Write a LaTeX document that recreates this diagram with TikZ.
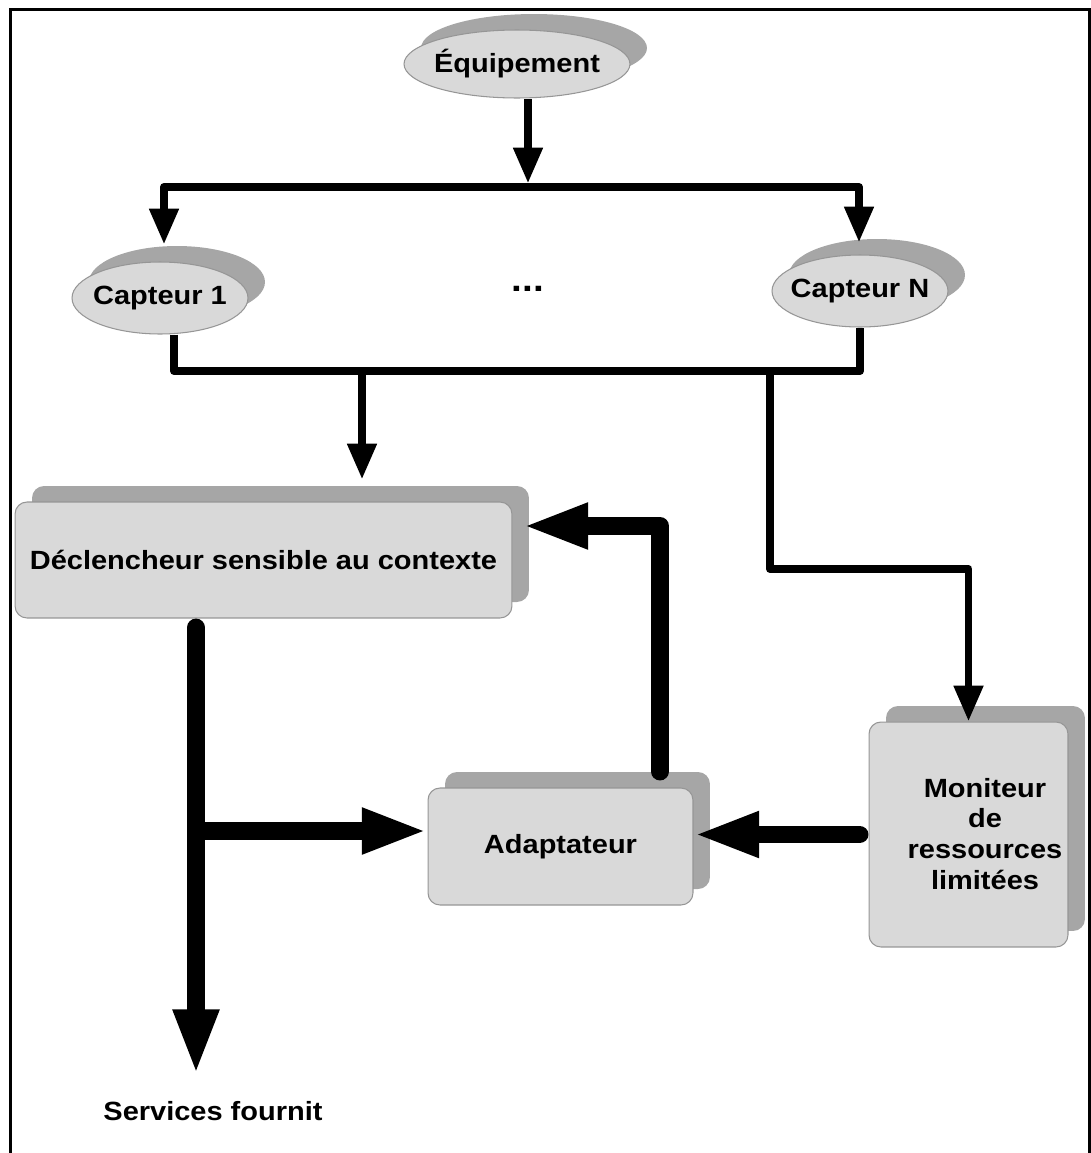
\documentclass[tikz,border=0pt]{standalone}
\usepackage{fontspec}
\setmainfont{Liberation Sans}[FakeStretch=1.1]
\usetikzlibrary{arrows.meta,shapes.geometric,shadows}
\definecolor{boxgray}{RGB}{217,217,217}
\definecolor{shadegray}{RGB}{166,166,166}
\definecolor{rimgray}{RGB}{150,150,150}

\begin{document}
\begin{tikzpicture}[x=0.02cm,y=-0.02cm,
  every node/.style={font=\fontsize{15pt}{17.6pt}\selectfont\bfseries},
  bubble/.style={ellipse,fill=boxgray,draw=rimgray,line width=0.6pt,inner sep=0pt,
    general shadow={fill=shadegray,shadow xshift=0.34cm,shadow yshift=0.32cm}},
  panel/.style={rectangle,rounded corners=6.8pt,fill=boxgray,draw=rimgray,line width=0.6pt,inner sep=0pt,align=center,
    general shadow={fill=shadegray,shadow xshift=0.34cm,shadow yshift=0.32cm}},
  wire/.style={line width=4.5pt,line join=round,>={Triangle[length=20.4pt,width=15.9pt]}},
  fatwire/.style={line width=10.2pt,line cap=round,line join=round,>={Triangle[length=37.4pt,width=23.8pt]}}]
\useasboundingbox (0,0) rectangle (1091,1153);
\draw[line width=1.7pt] (10.5,1153) -- (10.5,9.5) -- (1089.5,9.5) -- (1089.5,1153);

\node[bubble,minimum width=4.52cm,minimum height=1.36cm,label=center:Équipement] (equip) at (517,64) {};
\node[bubble,minimum width=3.52cm,minimum height=1.44cm,label=center:Capteur 1] (cap1) at (160,298) {};
\node[bubble,minimum width=3.52cm,minimum height=1.44cm,label=center:Capteur N] (capN) at (860,291) {};
\node[font=\fontsize{20pt}{24pt}\selectfont\bfseries] (dots) at (528,289) {...};

\node[panel,minimum width=9.94cm,minimum height=2.32cm] (decl) at (263.5,560) {Déclencheur sensible au contexte};
\node[panel,minimum width=5.3cm,minimum height=2.34cm] (adapt) at (560.5,846.5) {Adaptateur};
\node[panel,minimum width=3.98cm,minimum height=4.5cm] (moni) at (968.5,834.5) {};
\node[align=center] (monitext) at (985,834) {Moniteur\\de\\ressources\\limitées};
\node (serv) at (213,1111) {Services fournit};

\coordinate (busC) at (528,187);
\coordinate (busB) at (362,371);
\coordinate (busM) at (770,371);
\coordinate (trunk) at (196,831);
\coordinate (loop) at (660,526);

\draw[wire,->,shorten >=2pt] (equip.south -| busC) -- (busC);
\draw[wire,<->] ([shift={(4,-17)}]cap1.north) |- (busC) -| ([shift={(-1,-12)}]capN.north);
\draw[wire] ([shift={(14,0)}]cap1.south) |- (busB) -| (capN.south);
\draw[wire,->,shorten >=0.44cm] (busB) -- (busB |- decl.north);
\draw[wire,->] (busM) -- ++(0,198) -| (moni.north);

\draw[fatwire,->,shorten <=0.18cm,shorten >=0.4cm] (decl.south -| trunk) -- (trunk |- serv.north);
\draw[fatwire,->] (trunk) -- (trunk -| adapt.west);
\draw[fatwire,->,shorten <=0.18cm] (moni.west) -- (moni.west -| adapt.east);
\draw[fatwire,->,shorten <=0.32cm,shorten >=0.2cm] (adapt.north -| loop) -- (loop) -- (loop -| decl.east);
\end{tikzpicture}
\end{document}
